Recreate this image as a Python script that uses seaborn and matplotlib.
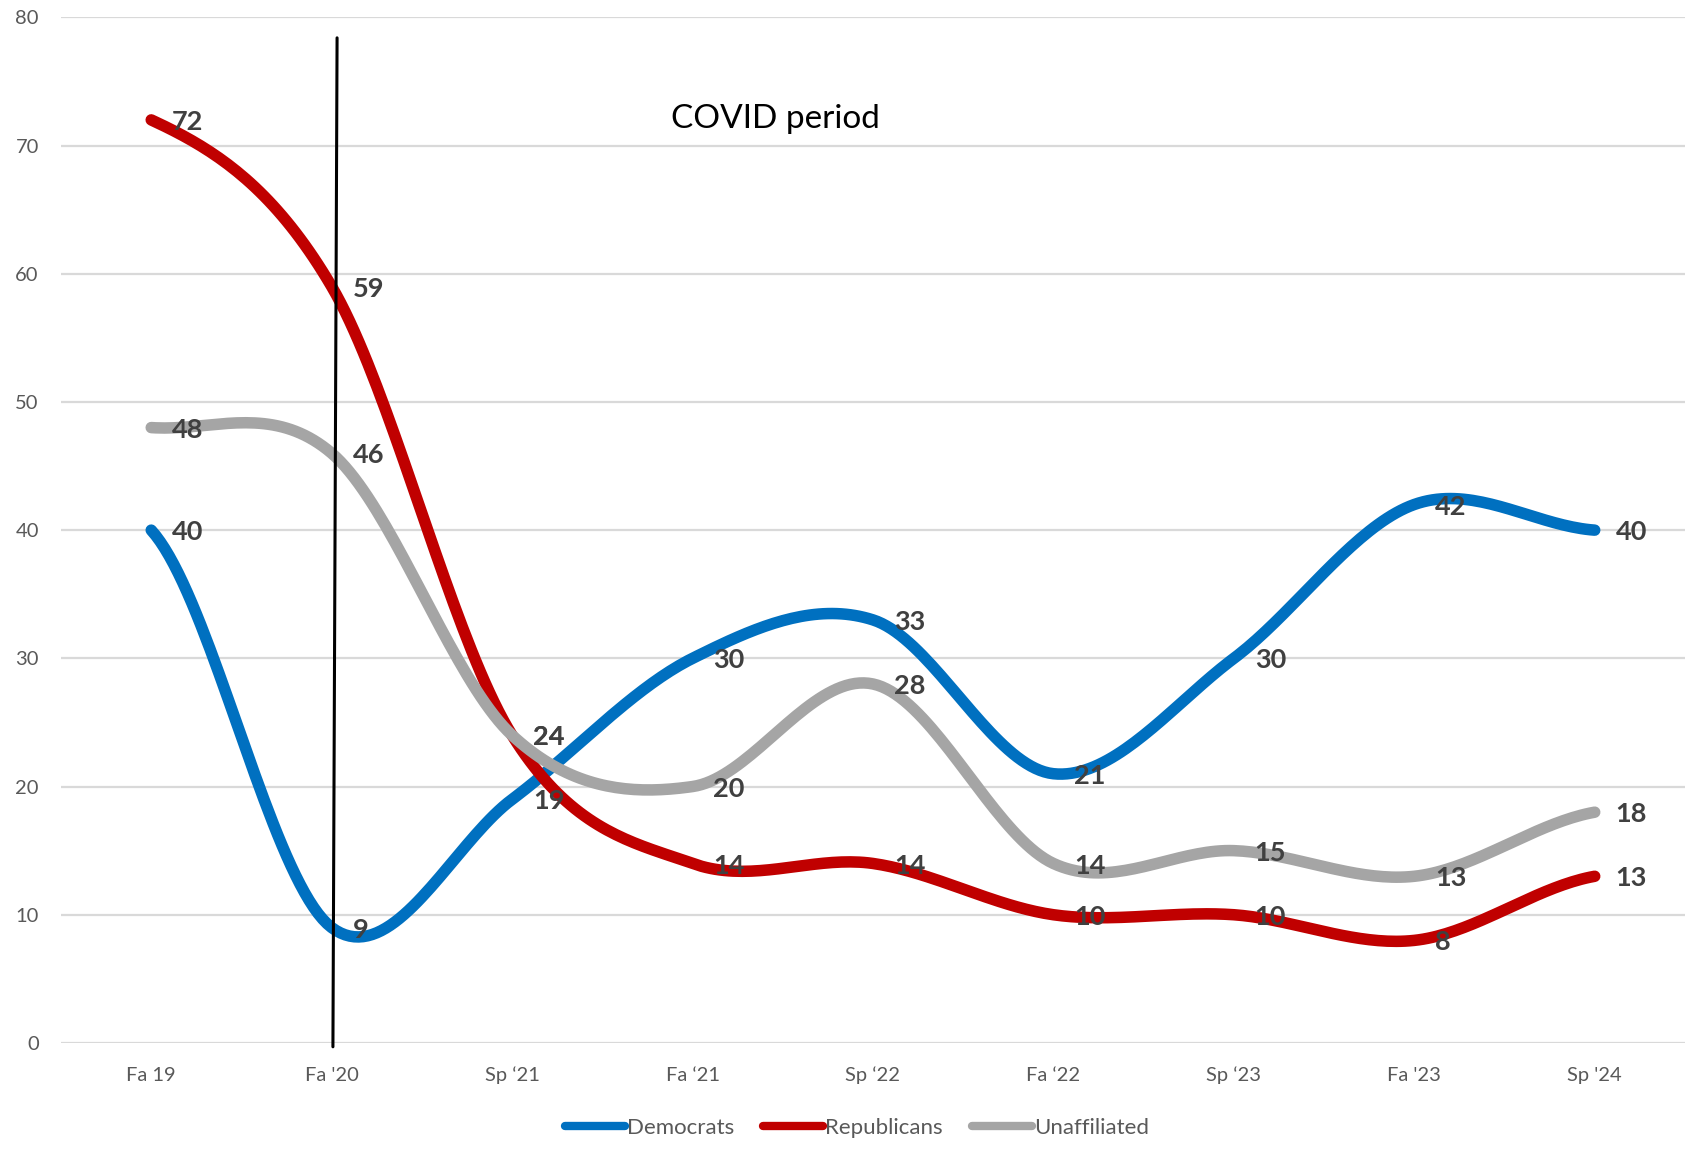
"""Smoothed party-affiliation trend lines with a COVID marker."""

import matplotlib
matplotlib.use("Agg")
import matplotlib.pyplot as plt
from matplotlib.lines import Line2D
import numpy as np
import pandas as pd
import seaborn as sns

TERMS = ["Fa 19", "Fa '20", "Sp \u201821", "Fa \u201821", "Sp \u201822",
         "Fa \u201822", "Sp \u201823", "Fa '23", "Sp '24"]
DEMOCRATS = [40, 9, 19, 30, 33, 21, 30, 42, 40]
REPUBLICANS = [72, 59, 24, 14, 14, 10, 10, 8, 13]
UNAFFILIATED = [48, 46, 24, 20, 28, 14, 15, 13, 18]

SERIES = {"Democrats": DEMOCRATS, "Republicans": REPUBLICANS,
          "Unaffiliated": UNAFFILIATED}
COLORS = {"Democrats": "#0070C0", "Republicans": "#C00000",
          "Unaffiliated": "#A5A5A5"}

# hand-drawn marker line (data coords, top -> bottom) and its caption
COVID_X = (1.03, 1.007)
COVID_Y = (78.4, -0.3)
COVID_TEXT_POS = (3.46, 71.4)

TEXT = "#595959"
LABEL = "#404040"


def smooth(y, steps=40):
    """Catmull-Rom curve through the points, like Excel's smoothed line."""
    y = np.asarray(y, float)
    p = np.concatenate([[y[0]], y, [y[-1]]])
    xs, ys = [], []
    t = np.linspace(0, 1, steps, endpoint=False)
    for i in range(len(y) - 1):
        m0 = (p[i + 2] - p[i]) / 2
        m1 = (p[i + 3] - p[i + 1]) / 2
        h00 = 2 * t**3 - 3 * t**2 + 1
        h10 = t**3 - 2 * t**2 + t
        h01 = -2 * t**3 + 3 * t**2
        h11 = t**3 - t**2
        xs.append(i + t)
        ys.append(h00 * y[i] + h10 * m0 + h01 * y[i + 1] + h11 * m1)
    xs.append([len(y) - 1])
    ys.append([y[-1]])
    return np.concatenate(xs), np.concatenate(ys)


sns.set_theme(style="white")
plt.rcParams["font.family"] = ["Lato", "DejaVu Sans"]

rows = []
for name, vals in SERIES.items():
    sx, sy = smooth(vals)
    rows.append(pd.DataFrame({"x": sx, "value": sy, "party": name}))
curves = pd.concat(rows, ignore_index=True)

fig = plt.figure(figsize=(16.9, 11.56), dpi=100)
ax = fig.add_axes([0.0361, 0.0978, 0.9609, 0.8872])

for gy in range(0, 90, 10):
    ax.axhline(gy, color="#D9D9D9", lw=1.6, zorder=0)

sns.lineplot(data=curves, x="x", y="value", hue="party", palette=COLORS,
             hue_order=list(SERIES), sort=False, estimator=None,
             linewidth=8.3, solid_capstyle="round", legend=False, ax=ax)

for name, vals in SERIES.items():
    for i, v in enumerate(vals):
        ax.annotate(str(v), (i, v), xytext=(15, -1.5), textcoords="offset points",
                    ha="left", va="center", fontsize=19.5, fontweight="bold",
                    color=LABEL, zorder=5)

ax.plot(COVID_X, COVID_Y, color="black", lw=2.2, zorder=6, clip_on=False)
ax.text(*COVID_TEXT_POS, "COVID period", ha="center", va="baseline",
        fontsize=24, color="black")

ax.set_xlim(-0.5, len(TERMS) - 0.5)
ax.set_ylim(0, 80)
ax.set_xticks(range(len(TERMS)))
ax.set_xticklabels(TERMS)
ax.set_yticks(range(0, 90, 10))
ax.tick_params(axis="both", length=0, labelsize=14.5, labelcolor=TEXT)
ax.tick_params(axis="x", pad=17)
ax.tick_params(axis="y", pad=16)
ax.set_xlabel("")
ax.set_ylabel("")
for s in ax.spines.values():
    s.set_visible(False)

handles = [Line2D([], [], color=COLORS[n], lw=6, solid_capstyle="round")
           for n in SERIES]
fig.legend(handles, list(SERIES), loc="center", bbox_to_anchor=(0.507, 0.024),
           ncol=3, frameon=False, fontsize=16, labelcolor=TEXT,
           handlelength=2.7, handletextpad=0.1, columnspacing=1.3)

fig.savefig("out.png", dpi=100)
